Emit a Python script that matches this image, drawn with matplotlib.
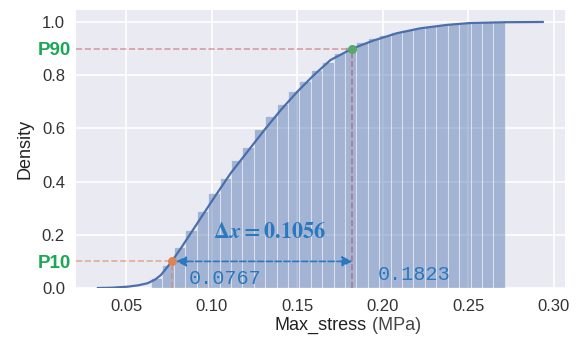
import numpy as np
import matplotlib
matplotlib.use("Agg")
import matplotlib.pyplot as plt

# ---------------- data ----------------
bin_start = 0.0646
bin_width = 0.00667
cum_density = [0.038, 0.086, 0.154, 0.218, 0.289, 0.357, 0.414, 0.481, 0.530,
               0.598, 0.647, 0.692, 0.741, 0.778, 0.820, 0.850, 0.883, 0.906,
               0.925, 0.940, 0.952, 0.962, 0.971, 0.978, 0.985, 0.990, 0.993,
               0.996, 0.998, 0.999, 1.000]

kde_x = [0.0335, 0.0413, 0.0510, 0.0570, 0.0626, 0.0670, 0.0704, 0.0767,
         0.0821, 0.0918, 0.1015, 0.1112, 0.1209, 0.1306, 0.1403, 0.1501,
         0.1597, 0.1695, 0.1823, 0.1945, 0.2085, 0.2219, 0.2376, 0.2510,
         0.2714, 0.2936]
kde_y = [0.000, 0.001, 0.005, 0.010, 0.018, 0.032, 0.049, 0.100,
         0.150, 0.245, 0.340, 0.432, 0.512, 0.592, 0.668, 0.738,
         0.800, 0.857, 0.900, 0.930, 0.958, 0.976, 0.989, 0.996,
         0.999, 1.000]

p10_x, p10_y = 0.0767, 0.1
p90_x, p90_y = 0.1823, 0.9
delta_label = r"$\Delta x = 0.1056$"
p10_label = "0.0767"
p90_label = "0.1823"

xticks = [0.05, 0.10, 0.15, 0.20, 0.25, 0.30]
yticks = [0.0, 0.2, 0.4, 0.6, 0.8, 1.0]

# ---------------- style ----------------
plt.rcParams['font.family'] = ['Liberation Sans', 'DejaVu Sans']
plt.rcParams['mathtext.fontset'] = 'custom'
plt.rcParams['mathtext.rm'] = 'STIXGeneral:bold'
plt.rcParams['mathtext.it'] = 'STIXGeneral:italic:bold'
plt.rcParams['mathtext.bf'] = 'STIXGeneral:bold'

W, H = 581, 338
fig = plt.figure(figsize=(W / 100, H / 100), dpi=100)
ax = fig.add_axes([76 / W, (H - 288) / H, (565 - 76) / W, (288 - 10) / H])
ax.set_facecolor('#eaeaf2')
for s in ax.spines.values():
    s.set_visible(False)
ax.grid(True, color='white', lw=1.2)
ax.set_axisbelow(True)

blue = '#4c72b0'
n = len(cum_density)
edges = bin_start + bin_width * np.arange(n)
ax.bar(edges, cum_density, width=bin_width, align='edge', color=blue,
       alpha=0.45, edgecolor='white', linewidth=0.8, zorder=2)
ax.plot(kde_x, kde_y, color='#4a6fab', lw=1.6, zorder=3)

xl = (0.0207, 0.3066)
ax.set_xlim(*xl)
ax.set_ylim(0, 1.045)

# percentile guides
ax.plot([xl[0], p90_x], [p90_y, p90_y], ls='--', color='#c44e52', alpha=0.5, lw=1.2, zorder=4)
ax.plot([p90_x, p90_x], [0, p90_y], ls='--', color='#c44e52', alpha=0.6, lw=1.2, zorder=4)
ax.plot([xl[0], p10_x], [p10_y, p10_y], ls='--', color='#dd8452', alpha=0.6, lw=1.2, zorder=4)
ax.plot([p10_x, p10_x], [0, p10_y], ls='--', color='#dd8452', alpha=0.6, lw=1.2, zorder=4)
ax.scatter([p10_x], [p10_y], color='#dd8452', s=30, zorder=6)
ax.scatter([p90_x], [p90_y], color='#55a868', s=30, zorder=6)

tblue = '#2a78bd'
ax.annotate('', xy=(p90_x, p10_y), xytext=(p10_x + 0.0025, p10_y),
            arrowprops=dict(arrowstyle='<|-|>', ls='--', color=tblue, lw=1.2,
                            mutation_scale=15, shrinkA=0, shrinkB=0), zorder=5)
ax.text(0.1007, 0.207, delta_label, color=tblue, fontsize=16, ha='left', va='center', zorder=7)
ax.text(0.0867, 0.034, p10_label, color=tblue, fontsize=14.5, family='Liberation Mono',
        ha='left', va='center', zorder=7)
ax.text(0.1969, 0.050, p90_label, color=tblue, fontsize=14.5, family='Liberation Mono',
        ha='left', va='center', zorder=7)

green = '#1ea657'
ax.text(-0.01, p90_y - 0.008, 'P90', transform=ax.get_yaxis_transform(), color=green,
        fontsize=13.5, fontweight='bold', ha='right', va='center')
ax.text(-0.01, p10_y - 0.008, 'P10', transform=ax.get_yaxis_transform(), color=green,
        fontsize=13.5, fontweight='bold', ha='right', va='center')

ax.set_xticks(xticks)
ax.set_xticklabels([f"{t:.2f}" for t in xticks])
ax.set_yticks(yticks)
ax.set_yticklabels([f"{t:.1f}" for t in yticks])
ax.tick_params(length=0, labelsize=12, colors='#333333', pad=8)
ax.set_xlabel('Max_stress', fontsize=13, color='#222222', labelpad=2)
ax.set_ylabel('Density', fontsize=13, color='#222222', labelpad=6)
ax.annotate(' (MPa)', xy=(1, 0), xycoords=ax.xaxis.label, ha='left', va='bottom',
            fontsize=13, color='#444444')

fig.savefig('out.png', dpi=100)
